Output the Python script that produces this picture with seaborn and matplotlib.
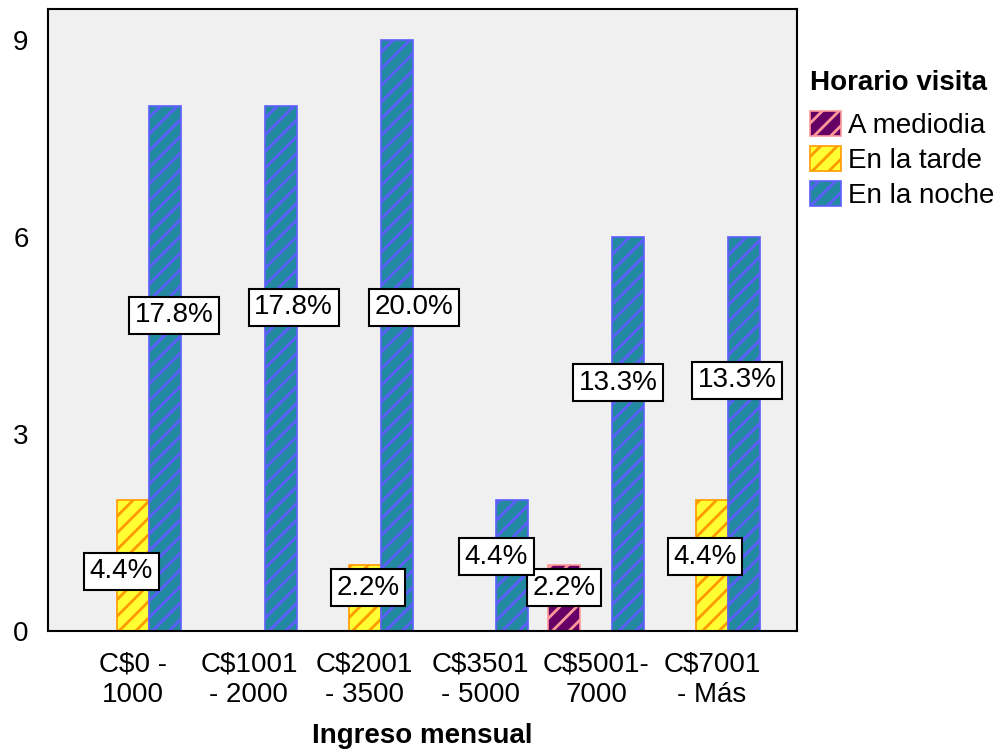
import numpy as np
import pandas as pd
import matplotlib
matplotlib.use("Agg")
import matplotlib.pyplot as plt
from matplotlib.patches import Patch
import seaborn as sns

# ---------------- Data ----------------
ingresos = ["C$0 -\n1000", "C$1001\n- 2000", "C$2001\n- 3500",
            "C$3501\n- 5000", "C$5001-\n7000", "C$7001\n- Más"]
horarios = ["A mediodia", "En la tarde", "En la noche"]
mediodia = [0, 0, 0, 0, 1, 0]
tarde = [2, 0, 1, 0, 0, 2]
noche = [8, 8, 9, 2, 6, 6]

# where SPSS dropped the % boxes (x shift in category units, y in data units)
mediodia_lab = [None, None, None, None, (0.0, 0.66), None]
tarde_lab = [(-0.10, 0.91), None, (0.03, 0.66), None, None, (-0.06, 1.13)]
noche_lab = [(0.08, 4.81), (0.11, 4.93), (0.15, 4.93), (-0.14, 1.13), (-0.09, 3.78), (-0.06, 3.82)]

fill_colors = {"A mediodia": "#660066", "En la tarde": "#FFFF33", "En la noche": "#2389A0"}
hatch_colors = {"A mediodia": "#FF9999", "En la tarde": "#FF9900", "En la noche": "#5E5EFF"}

series = {"A mediodia": mediodia, "En la tarde": tarde, "En la noche": noche}
labels = {"A mediodia": mediodia_lab, "En la tarde": tarde_lab, "En la noche": noche_lab}
total = sum(sum(v) for v in series.values())

rows = []
for h, vals in series.items():
    for cat, v in zip(ingresos, vals):
        if v > 0:
            rows.append({"Ingreso": cat, "Horario": h, "Conteo": v})
df = pd.DataFrame(rows)

# ---------------- Plot ----------------
sns.set_style("white")
plt.rcParams["font.family"] = ["Liberation Sans", "DejaVu Sans"]
plt.rcParams["hatch.linewidth"] = 2.0
plt.rcParams["text.color"] = "black"
plt.rcParams["xtick.color"] = "black"
plt.rcParams["ytick.color"] = "black"
plt.rcParams["axes.labelcolor"] = "black"

FS = 20

fig = plt.figure(figsize=(10.03, 7.49), dpi=100)
ax = fig.add_axes([0.048, 0.1575, 0.7466, 0.8305])
ax.set_facecolor("#F0F0F0")

sns.barplot(data=df, x="Ingreso", y="Conteo", hue="Horario", order=ingresos,
            hue_order=horarios, palette=fill_colors, saturation=1, width=0.83,
            legend=False, ax=ax)

for h, cont in zip(horarios, ax.containers):
    for p in cont:
        p.set_hatch("//")
        p.set_edgecolor(hatch_colors[h])
        p.set_linewidth(1.2)
        xc = p.get_x() + p.get_width() / 2
        i = int(round(xc))
        lab = labels[h][i]
        if lab is None:
            continue
        pct = series[h][i] / total * 100
        ax.text(xc + lab[0], lab[1], f"{pct:.1f}%", ha="center", va="center",
                fontsize=FS,
                bbox=dict(boxstyle="square,pad=0.2", fc="white", ec="black", lw=1.5))

ax.set_xlim(-0.734, 5.734)
ax.set_ylim(0, 9.47)
ax.set_yticks([0, 3, 6, 9])
ax.tick_params(axis="both", labelsize=FS, length=12, width=1.5, direction="out",
               color="black", pad=2)
ax.tick_params(axis="x", pad=3)
for s in ax.spines.values():
    s.set_color("black")
    s.set_linewidth(1.5)
ax.set_ylabel("")
ax.set_xlabel("Ingreso mensual", fontsize=FS, fontweight="bold", labelpad=11)

# legend: title as separate text so the gap under it can match
fig.text(0.808, 1 - 83 / 749, "Horario visita", fontsize=FS, fontweight="bold",
         ha="left", va="center")
handles = [Patch(facecolor=fill_colors[h], edgecolor=hatch_colors[h], hatch="//",
                 linewidth=1.2, label=h) for h in horarios]
leg = fig.legend(handles=handles, loc="upper left",
                 bbox_to_anchor=(0.808, 1 - 111 / 749), frameon=False, fontsize=FS,
                 handlelength=1.1, handleheight=1.0,
                 handletextpad=0.25, labelspacing=0.25, borderpad=0, borderaxespad=0)

fig.savefig("out.png", dpi=100, facecolor="white")
